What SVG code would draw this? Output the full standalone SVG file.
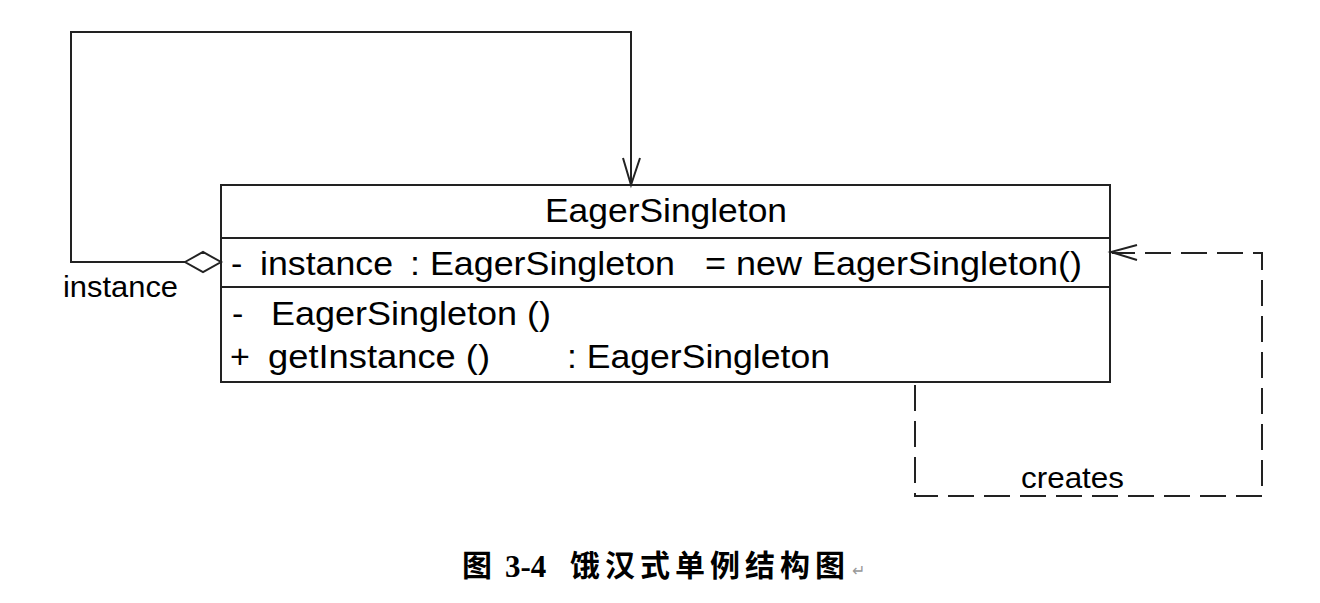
<svg xmlns="http://www.w3.org/2000/svg" width="1320" height="603" viewBox="0 0 1320 603">
<style>
.t{font-family:"Liberation Sans",Arial,sans-serif;font-size:34px;fill:#000}
.l{font-family:"Liberation Sans",Arial,sans-serif;font-size:29px;fill:#000}
.ln{fill:none;stroke:#222;stroke-width:2}
.dash{fill:none;stroke:#222;stroke-width:2;stroke-dasharray:26,10}
.cap{font-family:"Noto Sans CJK SC",sans-serif;font-size:30px;font-weight:bold;fill:#000}
</style>
<rect width="1320" height="603" fill="#fff"/>
<g id="EagerSingleton">
<rect x="221" y="185" width="889" height="197" fill="#fff" stroke="#222" stroke-width="2"/>
<line x1="221" y1="238" x2="1110" y2="238" stroke="#222" stroke-width="2"/>
<line x1="221" y1="287" x2="1110" y2="287" stroke="#222" stroke-width="2"/>
<text class="t" x="545" y="222" textLength="242" lengthAdjust="spacingAndGlyphs">EagerSingleton</text>
<text class="t" x="231" y="275">-</text>
<text class="t" x="260" y="275" textLength="133" lengthAdjust="spacingAndGlyphs">instance</text>
<text class="t" x="410" y="275" textLength="265" lengthAdjust="spacingAndGlyphs">: EagerSingleton</text>
<text class="t" x="705" y="275" textLength="377" lengthAdjust="spacingAndGlyphs">= new EagerSingleton()</text>
<text class="t" x="232" y="325">-</text>
<text class="t" x="271" y="325" textLength="280" lengthAdjust="spacingAndGlyphs">EagerSingleton ()</text>
<text class="t" x="230" y="368">+</text>
<text class="t" x="268" y="368" textLength="222" lengthAdjust="spacingAndGlyphs">getInstance ()</text>
<text class="t" x="567" y="368" textLength="263" lengthAdjust="spacingAndGlyphs">: EagerSingleton</text>
</g>
<g id="connectors">
<polyline class="ln" points="185,262 71,262 71,32 631,32 631,185"/>
<polyline class="ln" points="623,158 631,185 640,158"/>
<polygon points="185,262 203,252 221,262 203,272" fill="#fff" stroke="#222" stroke-width="2"/>
<text class="l" x="63" y="297" textLength="115" lengthAdjust="spacingAndGlyphs">instance</text>
<polyline class="dash" points="915,385 915,496 1262,496 1262,253 1112,253"/>
<polyline class="ln" points="1137,245 1111,252 1137,260"/>
<text class="l" x="1021" y="488" textLength="103" lengthAdjust="spacingAndGlyphs">creates</text>
</g>
<g id="caption">
<text class="cap" x="462" y="576">图</text>
<text x="505" y="577" font-family="'Liberation Serif',serif" font-size="31" font-weight="bold">3-4</text>
<text class="cap" x="570" y="576" letter-spacing="5">饿汉式单例结构图</text>
<text x="852" y="576" font-family="'Liberation Sans',sans-serif" font-size="16" fill="#999">↵</text>
</g>
</svg>
